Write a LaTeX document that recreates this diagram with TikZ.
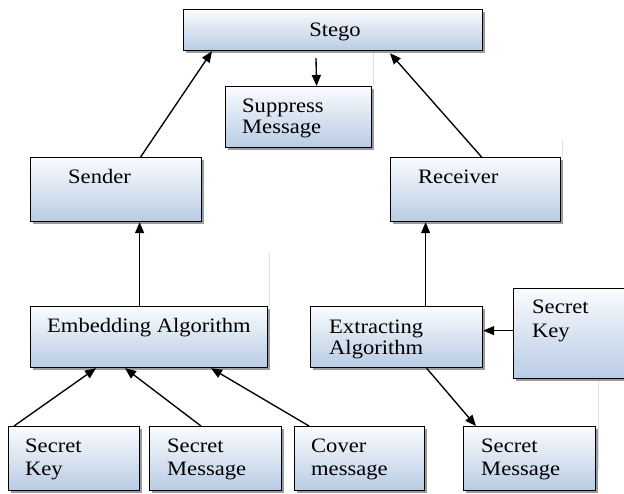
\documentclass[tikz,border=0pt]{standalone}
\usepackage{fontspec}
\setmainfont{Liberation Serif}[FakeStretch=1.1]
\usetikzlibrary{arrows.meta,shadows}
\definecolor{boxblue}{RGB}{184,204,228}
\definecolor{boxtop}{RGB}{250,251,254}
\begin{document}
\begin{tikzpicture}[x=1pt,y=-1pt,
  box/.style={draw=black, line width=1.2pt, anchor=north west, inner sep=0pt,
    top color=boxtop, bottom color=boxblue,
    drop shadow={shadow xshift=2.5pt, shadow yshift=-2.5pt, fill=black!70, opacity=.55}},
  lbl/.style={anchor=base west, inner sep=0pt, font=\fontsize{20.5}{22}\selectfont},
  arr/.style={line width=1.35pt, -{Triangle[length=11pt,width=9pt]}},
  faint/.style={draw=black!12, line width=0.8pt}]
\useasboundingbox (0,0) rectangle (624,493);
\clip (0,0) rectangle (624,493);
\fill[white] (0,0) rectangle (624,493);

% light guide lines left over from the drawing grid
\draw[faint] (269,253) -- (269,306);
\draw[faint] (373,50) -- (373,86);
\draw[faint] (562,140) -- (562,157);
\draw[faint] (598,380) -- (598,470);

% boxes
\node[box, minimum width=299pt, minimum height=41pt] (stego)    at (183,9)   {};
\node[box, minimum width=146pt, minimum height=61pt] (suppress) at (225,86)  {};
\node[box, minimum width=171pt, minimum height=64pt] (sender)   at (30,157)  {};
\node[box, minimum width=170pt, minimum height=64pt] (receiver) at (390,157) {};
\node[box, minimum width=237pt, minimum height=61pt] (embed)    at (30,306)  {};
\node[box, minimum width=172pt, minimum height=61pt] (extract)  at (310,306) {};
\node[box, minimum width=130pt, minimum height=90pt] (keyR)     at (513,288) {};
\node[box, minimum width=131pt, minimum height=64pt] (key)      at (8,426)   {};
\node[box, minimum width=132pt, minimum height=64pt] (msg)      at (149,426) {};
\node[box, minimum width=130pt, minimum height=64pt] (cover)    at (294,426) {};
\node[box, minimum width=132pt, minimum height=64pt] (msgR)     at (463,426) {};

% labels
\node[lbl, anchor=base] (stegoT) at (335,36) {Stego};
\node[lbl] (suppressA) at (242,112) {Suppress};
\node[lbl] (suppressB) at (242,133) {Message};
\node[lbl] (senderT)   at (68,183)  {Sender};
\node[lbl] (receiverT) at (418,183) {Receiver};
\node[lbl] (embedT)    at (47,332)  {Embedding Algorithm};
\node[lbl] (extractA)  at (329,333) {Extracting};
\node[lbl] (extractB)  at (329,354) {Algorithm};
\node[lbl] (keyRA)     at (532,313) {Secret};
\node[lbl] (keyRB)     at (532,337) {Key};
\node[lbl] (keyA)      at (25,452)  {Secret};
\node[lbl] (keyB)      at (25,475)  {Key};
\node[lbl] (msgA)      at (167,452) {Secret};
\node[lbl] (msgB)      at (167,475) {Message};
\node[lbl] (coverA)    at (311,452) {Cover};
\node[lbl] (coverB)    at (311,475) {message};
\node[lbl] (msgRA)     at (481,452) {Secret};
\node[lbl] (msgRB)     at (481,475) {Message};

% connectors
\draw[arr] ([xshift=24.5pt]sender.north) -- ([xshift=29pt]stego.south west);
\draw[arr] ([xshift=6pt]receiver.north) -- ([xshift=207pt,yshift=-2pt]stego.south west);
\draw[arr] ([xshift=133pt,yshift=-7pt]stego.south west) -- ([xshift=18pt]suppress.north);
\draw[arr] ([xshift=-9.5pt]embed.north) -- ([xshift=23.5pt]sender.south);
\draw[arr] ([xshift=29pt]extract.north) -- ([xshift=-50pt]receiver.south);
\draw[arr] ([yshift=3pt]keyR.west) -- ([yshift=6.5pt]extract.east);
\draw[arr] ([xshift=30pt]extract.south) -- ([xshift=13pt]msgR.north west);
\draw[arr] ([xshift=6pt]key.north west) -- ([xshift=66pt]embed.south west);
\draw[arr] ([xshift=52pt]msg.north west) -- ([xshift=95pt]embed.south west);
\draw[arr] ([xshift=15pt]cover.north west) -- ([xshift=181pt]embed.south west);
\end{tikzpicture}
\end{document}
